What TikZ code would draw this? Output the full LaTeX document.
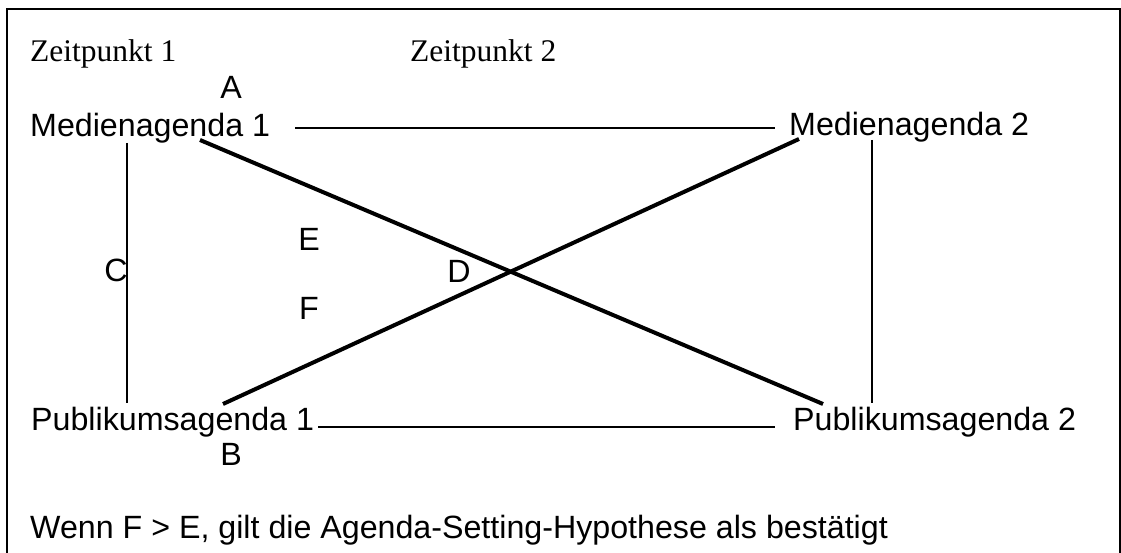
\documentclass[tikz,border=0pt]{standalone}
\usepackage{fontspec}
\setmainfont{Liberation Sans}
\newfontfamily\timesface{Liberation Serif}
\begin{document}
\begin{tikzpicture}[x=1pt,y=-1pt,
  label/.style={inner sep=0pt,font=\fontsize{32.2}{36}\selectfont},
  labelw/.style={label,anchor=base west},
  letter/.style={label,anchor=base},
  timelabel/.style={labelw,font=\fontsize{31.5}{36}\selectfont\timesface},
  thin/.style={line width=2pt},
  thick/.style={line width=4pt},
  frame/.style={line width=2pt}]
\useasboundingbox (0,0) rectangle (1121,553);

% outer frame (open at the bottom)
\draw[frame] (7,553) -- (7,9) -- (1120,9) -- (1120,553);

% time labels
\node[timelabel] (t1) at (30,62) {Zeitpunkt 1};
\node[timelabel] (t2) at (410,62) {Zeitpunkt 2};

% agenda labels
\node[labelw] (m1) at (30,137) {Medienagenda 1};
\node[labelw] (m2) at (789,136) {Medienagenda 2};
\node[labelw] (p1) at (31,430) {Publikumsagenda 1};
\node[labelw] (p2) at (793,430) {Publikumsagenda 2};

% relation letters
\node[letter] (la) at (231,99) {A};
\node[letter] (lb) at (231,465) {B};
\node[letter] (lc) at (116,281) {C};
\node[letter] (ld) at (459,283) {D};
\node[letter] (le) at (309,251) {E};
\node[letter] (lf) at (309,319) {F};

% line end points
\coordinate (mhA) at (295,128);
\coordinate (mhB) at (775,128);
\coordinate (phA) at (318,427);
\coordinate (phB) at (775,427);
\coordinate (lvA) at (127,143);
\coordinate (lvB) at (127,403);
\coordinate (rvA) at (872,140);
\coordinate (rvB) at (872,403);
\coordinate (d1A) at (200,140);
\coordinate (d1B) at (823,404);
\coordinate (d2A) at (223,404);
\coordinate (d2B) at (799,139);

% connectors
\draw[thin] (mhA) -- (mhB);
\draw[thin] (phA) -- (phB);
\draw[thin] (lvA) -- (lvB);
\draw[thin] (rvA) -- (rvB);
\draw[thick] (d1A) -- (d1B);
\draw[thick] (d2A) -- (d2B);

% conclusion
\node[labelw] (note) at (30,538) {Wenn F > E, gilt die Agenda-Setting-Hypothese als bestätigt};
\end{tikzpicture}
\end{document}
